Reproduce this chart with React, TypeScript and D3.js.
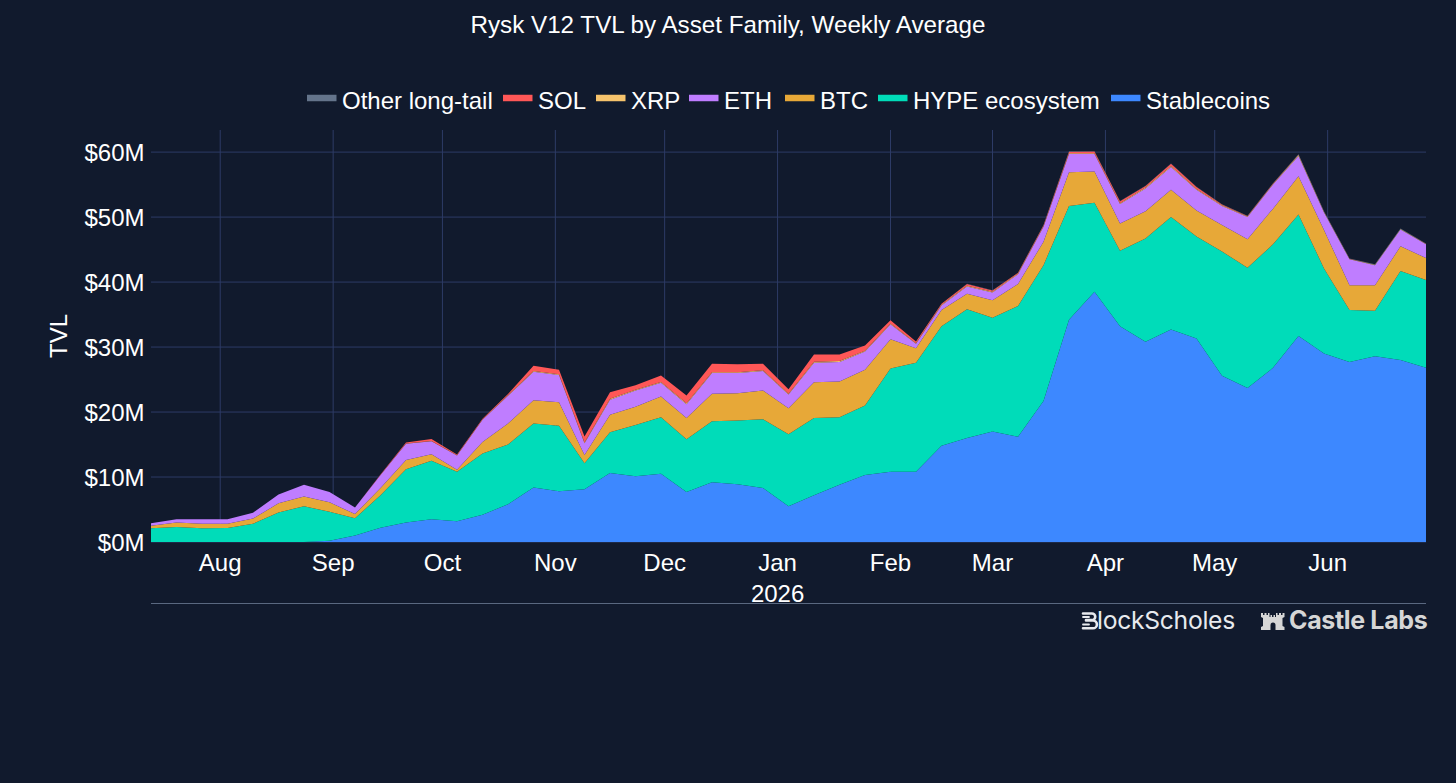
import React from "react";
import * as d3 from "d3";

const WIDTH = 1456;
const HEIGHT = 783;
const M = { left: 151, right: 1426, top: 130, bottom: 542 };

const TITLE = "Rysk V12 TVL by Asset Family, Weekly Average";
const START_DATE = new Date(Date.UTC(2025, 6, 13));
const WEEK_COUNT = 51;

const stablecoins = [0,0,0,0,0,0,0,0.2,1,2.2,3,3.5,3.2,4.2,5.8,8.4,7.8,8.1,10.6,10.1,10.5,7.7,9.2,8.9,8.3,5.5,7.2,8.8,10.3,10.8,10.8,14.8,16,17,16.2,21.7,34.2,38.5,33.2,30.8,32.7,31.3,25.6,23.7,26.8,31.7,29,27.7,28.6,28,26.8];
const hype = [2.1,2.3,2.1,2.15,2.8,4.55,5.5,4.45,2.65,5,8.2,9,7.6,9.4,9.2,9.85,10.1,4,6.3,7.9,8.7,8.1,9.4,9.8,10.6,11.1,11.9,10.4,10.7,15.9,16.8,18.4,19.8,17.5,20.1,20.9,17.5,13.7,11.6,15.9,17.3,15.7,19.1,18.5,19,18.7,13.1,8,7,13.7,13.5];
const btc = [0.4,0.7,0.7,0.65,0.8,1.4,1.5,1.45,0.65,1.1,1.4,1,0.3,1.8,3.25,3.55,3.6,1.3,2.7,2.8,3.2,3.3,4.2,4.2,4.4,4,5.5,5.5,5.5,4.5,2.2,2.5,2.4,2.7,3.4,3.6,5.2,4.8,4.2,4.2,4.2,4,4.1,4.4,5.5,5.9,5.9,3.8,3.9,3.8,3.4];
const eth = [0.4,0.5,0.7,0.7,0.9,1.35,1.8,1.6,1,2,2.5,2,2.2,3.4,4.25,4.4,4.2,1.8,2.3,2.5,2.1,2.1,3.2,3.1,3,2.1,3,3,2.8,2.3,0.7,0.7,1.1,1.2,1.5,2.3,2.8,2.7,3,3.5,3.5,3.2,2.9,3.4,3.7,3.1,2.7,4,3.1,2.6,2.1];
const xrp = [0,0,0,0,0,0,0,0,0,0.02,0.05,0.05,0.05,0.05,0.08,0.12,0.12,0.12,0.14,0.14,0.14,0.14,0.14,0.14,0.14,0.1,0.14,0.14,0.14,0.12,0.1,0.1,0.12,0.12,0.1,0.1,0.12,0.14,0.14,0.14,0.16,0.14,0.12,0.1,0.1,0.14,0.1,0.06,0.06,0.06,0.06];
const sol = [0,0,0,0,0,0,0,0,0.02,0.05,0.15,0.3,0.1,0.1,0.2,0.8,0.7,0.9,1,0.7,1,1.2,1.3,1.2,1,0.7,1.1,1,0.8,0.5,0.25,0.15,0.3,0.2,0.12,0.15,0.25,0.25,0.3,0.25,0.35,0.3,0.12,0.08,0.06,0.04,0.03,0.02,0.02,0.02,0.02];
const other = [0,0,0,0,0,0,0,0,0,0,0,0,0,0,0,0,0,0,0,0,0,0,0,0,0,0,0,0,0,0,0,0,0.02,0.02,0.02,0.04,0.05,0.05,0.04,0.03,0.04,0.03,0.03,0.03,0.03,0.08,0.08,0.06,0.06,0.06,0.06];

const seriesKeys = ["Stablecoins", "HYPE ecosystem", "BTC", "ETH", "XRP", "SOL", "Other long-tail"];
const seriesValues = [stablecoins, hype, btc, eth, xrp, sol, other];
const seriesColors = ["#3d88ff", "#00dcb9", "#e7a838", "#bf7dff", "#f6c36c", "#ff5757", "#64748b"];

const legendOrder = ["Other long-tail", "SOL", "XRP", "ETH", "BTC", "HYPE ecosystem", "Stablecoins"];
const legendSwatchX = [307, 503, 596, 689, 785, 878, 1111];

const yTicks = [0, 10, 20, 30, 40, 50, 60];
const xTickDates = [
  [2025, 7, "Aug"], [2025, 8, "Sep"], [2025, 9, "Oct"], [2025, 10, "Nov"], [2025, 11, "Dec"], [2026, 0, "Jan"],
  [2026, 1, "Feb"], [2026, 2, "Mar"], [2026, 3, "Apr"], [2026, 4, "May"], [2026, 5, "Jun"],
] as [number, number, string][];

const BG = "#111a2d";
const GRID = "#2d3b66";
const FONT = '"Liberation Sans", Arial, sans-serif';

export default function App() {
  const dates = d3.range(WEEK_COUNT).map((i) => d3.utcDay.offset(START_DATE, i * 7));
  const x = d3.scaleUtc().domain([dates[0], dates[WEEK_COUNT - 1]]).range([M.left, M.right]);
  const y = d3.scaleLinear().domain([0, 63.4]).range([M.bottom, M.top]);

  const rows = dates.map((date, i) => {
    const row: Record<string, number> = { i };
    seriesKeys.forEach((k, s) => (row[k] = seriesValues[s][i]));
    return row;
  });
  const stacked = d3.stack().keys(seriesKeys)(rows as any);
  const area = d3
    .area<any>()
    .x((d) => x(dates[d.data.i]))
    .y0((d) => y(d[0]))
    .y1((d) => y(d[1]));

  return (
    <svg
      width={WIDTH}
      height={HEIGHT}
      viewBox={`0 0 ${WIDTH} ${HEIGHT}`}
      style={{ position: "fixed", left: 0, top: 0, background: BG, fontFamily: FONT }}
    >
      <rect width={WIDTH} height={HEIGHT} fill={BG} />
      <text x={728} y={33} textAnchor="middle" fill="#fff" fontSize={24.2}>{TITLE}</text>

      {yTicks.map((t) => (
        <line key={t} x1={M.left} x2={M.right} y1={y(t)} y2={y(t)} stroke={GRID} strokeWidth={1} />
      ))}
      {xTickDates.map(([yr, mo, label]) => {
        const px = x(new Date(Date.UTC(yr, mo, 1)));
        return <line key={label} x1={px} x2={px} y1={M.top} y2={M.bottom} stroke={GRID} strokeWidth={1} />;
      })}

      {stacked.map((s, i) => (
        <path key={s.key} d={area(s) ?? ""} fill={seriesColors[i]} />
      ))}

      {yTicks.map((t) => (
        <text key={t} x={144.5} y={y(t) + 8.5} textAnchor="end" fill="#fff" fontSize={24}>{`$${t}M`}</text>
      ))}
      {xTickDates.map(([yr, mo, label]) => (
        <text key={label} x={x(new Date(Date.UTC(yr, mo, 1)))} y={571} textAnchor="middle" fill="#fff" fontSize={24}>{label}</text>
      ))}
      <text x={x(new Date(Date.UTC(2026, 0, 1)))} y={602} textAnchor="middle" fill="#fff" fontSize={24}>2026</text>
      <text transform="translate(67,336) rotate(-90)" textAnchor="middle" fill="#fff" fontSize={24}>TVL</text>

      <line x1={M.left} x2={M.right} y1={603.5} y2={603.5} stroke="#5a6880" strokeWidth={1} />

      {legendOrder.map((name, i) => (
        <g key={name}>
          <line
            x1={legendSwatchX[i]}
            x2={legendSwatchX[i] + 29.5}
            y1={98}
            y2={98}
            stroke={seriesColors[seriesKeys.indexOf(name)]}
            strokeWidth={6.5}
          />
          <text x={legendSwatchX[i] + 35} y={108.5} fill="#fff" fontSize={24}>{name}</text>
        </g>
      ))}

      {/* logos */}
      <g fill="none" stroke="#e8eaee" strokeWidth={2.6} strokeLinecap="round">
        <path d="M1083 613.5 h9 a3 3 0 0 1 0 6.5 h-6 M1086 620.5 h7 a3.8 3.8 0 0 1 0 7.8 h-10" />
        <path d="M1083 617 h6 M1083 624.5 h6" strokeWidth={1.8} />
      </g>
      <text x={1097} y={629} fill="#e8eaee" fontSize={24.7} letterSpacing={-0.3} fontFamily="Inter">lockScholes</text>
      <path
        fill="#d6d6d6"
        d="M1261 630 v-3 l2 -1 v-8 l-2 -1 v-4 h2 v2 h1.5 v-2 h2 v2 h1.5 v-2 h1.5 v4 h1 v-2 h1.5 v2 h1.5 v-2 h1.5 v2 h1 v-4 h1.5 v2 h1.5 v-2 h2 v2 h1.5 v-2 h2 v4 l-2 1 v8 l2 1 v3 h-9 v-5 a2.5 2.5 0 0 0 -5 0 v5 z"
      />
      <text x={1289} y={629} fill="#d6d6d6" fontSize={25} fontWeight={700} letterSpacing={-0.35} fontFamily="Inter">Castle Labs</text>
    </svg>
  );
}
